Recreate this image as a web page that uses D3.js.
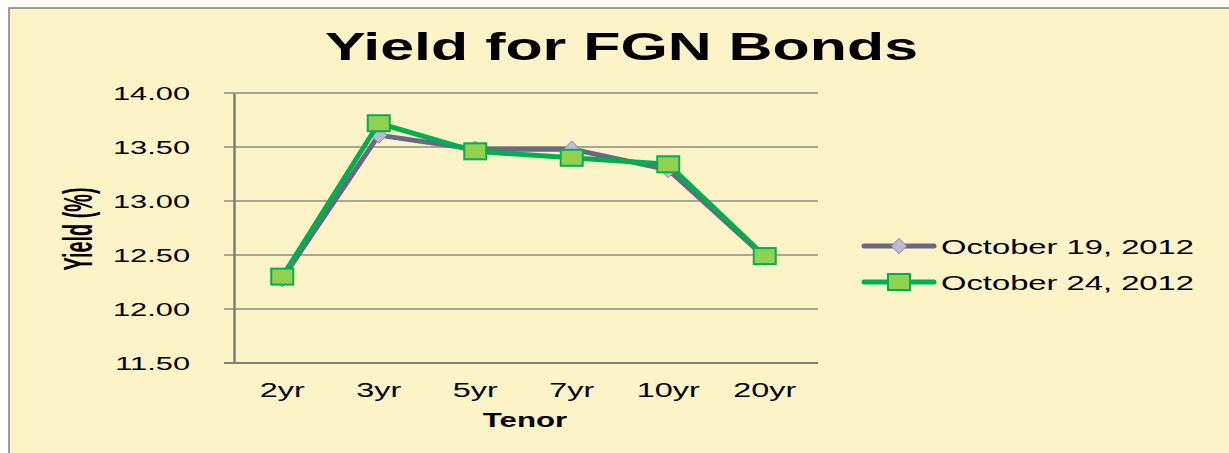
<!DOCTYPE html>
<html>
<head>
    <style>
        body { margin: 0; background: #fff; }
        text { font-family: "Liberation Sans", Arial, sans-serif; }
    </style>
</head>
<body>
    <svg id="container" width="1229" height="453">
        <g id="body"></g>
    </svg>
</body>
<script src="https://d3js.org/d3.v7.min.js"></script>
<script>
    let tenors = ["2yr", "3yr", "5yr", "7yr", "10yr", "20yr"];
    let oct19 = [12.28, 13.61, 13.48, 13.48, 13.29, 12.48];
    let oct24 = [12.30, 13.72, 13.46, 13.40, 13.34, 12.49];
    let yTicks = [11.5, 12.0, 12.5, 13.0, 13.5, 14.0];
    let seriesNames = ["October 19, 2012", "October 24, 2012"];

    let body = d3.select("#body");

    // the source picture is stretched sideways, so widen the glyphs to match
    function widen(sel, k) {
        sel.each(function () {
            let w = this.getComputedTextLength();
            d3.select(this)
                .attr("textLength", w * k)
                .attr("lengthAdjust", "spacingAndGlyphs");
        });
    }

    // chart frame
    body.append("rect")
        .attr("x", 9).attr("y", 8)
        .attr("width", 1240).attr("height", 460)
        .attr("fill", "#fcf3c7")
        .attr("stroke", "#7f7f7f")
        .attr("stroke-width", 1.5);

    let xScale = d3.scaleBand().domain(tenors).range([234, 813]);
    let yScale = d3.scaleLinear().domain([11.5, 14]).range([363, 93]);

    // gridlines
    body.append("g")
        .selectAll("line")
        .data(yTicks)
        .enter()
        .append("line")
            .attr("x1", 224).attr("x2", 818)
            .attr("y1", (d) => yScale(d))
            .attr("y2", (d) => yScale(d))
            .attr("stroke", "#8c8c84")
            .attr("stroke-width", 1.5);

    // y axis
    let yAxis = d3.axisLeft(yScale)
        .tickValues(yTicks)
        .tickFormat(d3.format(".2f"))
        .tickSize(0)
        .tickPadding(44);
    let yg = body.append("g")
        .attr("transform", "translate(234,0)")
        .call(yAxis);
    yg.select(".domain").attr("stroke", "#7f7f7f").attr("stroke-width", 2.5);
    yg.selectAll("text")
        .attr("font-size", 19)
        .attr("fill", "#000")
        .attr("dy", "0.36em")
        .style("font-family", "'Liberation Sans', Arial, sans-serif")
        .call(widen, 1.62);

    // x axis
    let xAxis = d3.axisBottom(xScale).tickSize(0).tickPadding(20);
    let xg = body.append("g")
        .attr("transform", "translate(0,363)")
        .call(xAxis);
    xg.select(".domain").remove();
    xg.selectAll("text")
        .attr("font-size", 19.5)
        .attr("fill", "#000")
        .style("font-family", "'Liberation Sans', Arial, sans-serif")
        .call(widen, 1.66);

    body.append("line")
        .attr("x1", 224).attr("x2", 818)
        .attr("y1", 363).attr("y2", 363)
        .attr("stroke", "#7f7f7f").attr("stroke-width", 2);

    // lines
    let cx = (i) => xScale(tenors[i]) + xScale.bandwidth() / 2;
    let line = d3.line().x((d, i) => cx(i)).y((d) => yScale(d));

    body.append("path")
        .datum(oct19)
        .attr("class", "line")
        .attr("d", line)
        .attr("fill", "none")
        .attr("stroke", "#6b6787")
        .attr("stroke-width", 5)
        .attr("stroke-linejoin", "round");
    body.append("g")
        .selectAll("path")
        .data(oct19)
        .enter()
        .append("path")
            .attr("d", d3.symbol().type(d3.symbolDiamond2).size(170))
            .attr("transform", (d, i) => `translate(${cx(i)},${yScale(d)})`)
            .attr("fill", "#bdbbd3")
            .attr("stroke", "#8a87a8")
            .attr("stroke-width", 1);

    body.append("path")
        .datum(oct24)
        .attr("class", "line")
        .attr("d", line)
        .attr("fill", "none")
        .attr("stroke", "#00b04f")
        .attr("stroke-width", 5)
        .attr("stroke-linejoin", "round");
    body.append("g")
        .selectAll("rect")
        .data(oct24)
        .enter()
        .append("rect")
            .attr("x", (d, i) => cx(i) - 11)
            .attr("y", (d) => yScale(d) - 8)
            .attr("width", 22)
            .attr("height", 16)
            .attr("fill", "#92d050")
            .attr("stroke", "#00b04f")
            .attr("stroke-width", 2);

    // title
    body.append("text")
        .text("Yield for FGN Bonds")
        .attr("x", 325).attr("y", 60)
        .attr("textLength", 593)
        .attr("lengthAdjust", "spacingAndGlyphs")
        .attr("font-size", 38)
        .attr("font-weight", "bold");

    // axis titles
    body.append("text")
        .text("Tenor")
        .attr("x", 525).attr("y", 427)
        .attr("text-anchor", "middle")
        .attr("font-size", 19.5)
        .attr("font-weight", "bold")
        .call(widen, 1.6);
    body.append("text")
        .text("Yield (%)")
        .attr("transform", "translate(92,229) rotate(-90)")
        .attr("text-anchor", "middle")
        .attr("font-size", 40)
        .attr("textLength", 83)
        .attr("lengthAdjust", "spacingAndGlyphs")
        .attr("font-weight", "bold");

    // legend
    let legend = body.append("g");
    let rows = legend.selectAll("g")
        .data(seriesNames)
        .enter()
        .append("g")
            .attr("transform", (d, i) => `translate(0,${246 + i * 36})`);
    rows.append("line")
        .attr("x1", 864).attr("x2", 934)
        .attr("y1", 0).attr("y2", 0)
        .attr("stroke", (d, i) => i === 0 ? "#6b6787" : "#00b04f")
        .attr("stroke-width", 5)
        .attr("stroke-linecap", "round");
    rows.filter((d, i) => i === 0).append("path")
        .attr("d", d3.symbol().type(d3.symbolDiamond2).size(150))
        .attr("transform", "translate(899,0)")
        .attr("fill", "#bdbbd3")
        .attr("stroke", "#8a87a8");
    rows.filter((d, i) => i === 1).append("rect")
        .attr("x", 888).attr("y", -8)
        .attr("width", 22).attr("height", 16)
        .attr("fill", "#92d050")
        .attr("stroke", "#00b04f")
        .attr("stroke-width", 2);
    rows.append("text")
        .text((d) => d)
        .attr("x", 941).attr("y", 8)
        .attr("textLength", 253)
        .attr("lengthAdjust", "spacingAndGlyphs")
        .attr("font-size", 20);
</script>
</html>
